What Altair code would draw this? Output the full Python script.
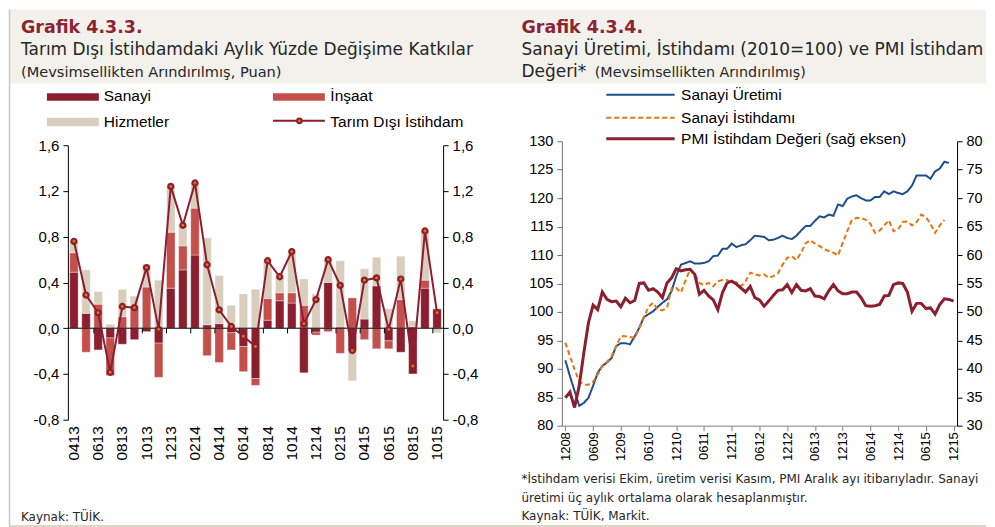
import altair as alt
import pandas as pd

# ---------------- Grafik 4.3.3 : data ----------------
aylar_sol = ["0413", "0513", "0613", "0713", "0813", "0913", "1013", "1113", "1213",
             "0114", "0214", "0314", "0414", "0514", "0614", "0714", "0814", "0914",
             "1014", "1114", "1214", "0115", "0215", "0315", "0415", "0515", "0615",
             "0715", "0815", "0915", "1015"]
sanayi = [0.49, 0.13, -0.19, -0.085, -0.14, -0.10, -0.03, -0.13, 0.35, 0.51, 0.64,
          0.03, 0.04, -0.04, -0.16, -0.44, 0.07, 0.24, 0.22, -0.39, -0.035, 0.40,
          0.01, -0.20, 0.08, 0.37, -0.11, -0.21, -0.40, 0.35, 0.17]
insaat = [0.17, -0.21, 0.21, -0.33, 0.10, 0.20, 0.36, -0.30, 0.49, 0.21, 0.41,
          -0.24, -0.30, -0.15, -0.22, -0.06, 0.19, 0.07, 0.09, 0.20, -0.025, -0.03,
          -0.22, 0.265, -0.10, -0.18, -0.07, 0.25, 0.015, 0.07, 0.0]
hizmetler = [0.10, 0.38, 0.11, 0.035, 0.24, 0.08, 0.20, 0.42, 0.40, 0.18, 0.22,
             0.76, 0.42, 0.20, 0.30, 0.34, 0.33, 0.14, 0.35, 0.23, 0.30, 0.20,
             0.58, -0.26, 0.44, 0.25, 0.17, 0.38, 0.05, 0.43, -0.04]
tarim_disi = [0.76, 0.29, 0.135, -0.385, 0.19, 0.18, 0.53, -0.01, 1.24, 0.90, 1.27,
              0.555, 0.16, 0.015, -0.07, -0.16, 0.59, 0.45, 0.67, 0.04, 0.25, 0.60,
              0.375, -0.195, 0.42, 0.44, -0.012, 0.43, -0.33, 0.85, 0.135]
etiketler_sol = aylar_sol[::2]
y_degerler_sol = [-0.8, -0.4, 0.0, 0.4, 0.8, 1.2, 1.6]
bilesenler = ["Sanayi", "İnşaat", "Hizmetler"]

# ---------------- Grafik 4.3.4 : data ----------------
aylar_sag = [d.strftime("%m%y") for d in pd.date_range("2008-12-01", "2015-12-01", freq="MS")]
sanayi_uretimi = [91.5, 88.7, 86.1, 83.5, 84.0, 84.9, 87.0, 89.3, 90.5, 91.1,
                  91.9, 94.0, 94.5, 94.5, 94.3, 95.7, 97.2, 99.1, 99.6, 100.1,
                  100.9, 101.6, 102.2, 103.7, 106.3, 108.3, 108.6, 108.9, 108.5, 108.5,
                  108.6, 108.9, 109.8, 109.9, 111.1, 111.1, 112.0, 111.4, 111.7, 111.9,
                  112.6, 113.4, 113.3, 113.2, 112.6, 112.7, 113.0, 113.4, 113.0, 112.8,
                  113.4, 114.3, 115.1, 115.1, 116.0, 116.8, 116.6, 117.1, 116.9, 118.9,
                  118.6, 119.9, 120.3, 120.5, 120.0, 119.6, 119.6, 120.2, 120.2, 121.2,
                  120.7, 121.2, 120.9, 120.7, 121.2, 122.2, 124.0, 124.0, 124.0, 123.4,
                  124.7, 125.2, 126.4, 126.2]
sanayi_istihdami = [94.6, 92.2, 89.9, 87.8, 87.2, 87.2, 87.7, 89.0, 90.5, 91.2,
                    92.2, 94.0, 95.7, 95.7, 95.6, 95.4, 97.2, 99.0, 100.9, 101.6,
                    100.4, 100.3, 100.7, 104.2, 104.2, 103.4, 105.5, 107.5, 106.6, 105.1,
                    104.7, 105.1, 104.5, 105.4, 105.6, 105.6, 105.1, 105.2, 104.5, 105.4,
                    106.9, 106.6, 106.4, 106.6, 106.0, 106.3, 106.8, 108.3, 109.5, 109.8,
                    109.1, 110.4, 112.1, 112.6, 112.0, 111.6, 111.0, 110.7, 110.4, 109.9,
                    112.1, 114.2, 116.2, 116.5, 116.5, 116.2, 115.5, 113.9, 114.3, 115.2,
                    116.1, 114.2, 114.5, 115.8, 115.9, 115.2, 115.8, 117.1, 116.7, 115.5,
                    113.9, 115.2, 116.2]
pmi_istihdam = [34.9, 35.9, 33.2, 37.0, 42.8, 48.1, 51.2, 50.4, 53.5, 52.2,
                51.8, 51.9, 50.9, 52.4, 51.6, 52.0, 55.0, 55.1, 53.8, 54.1,
                53.5, 52.5, 55.1, 56.0, 57.6, 57.2, 57.4, 57.5, 56.6, 53.1,
                53.8, 52.8, 52.1, 50.4, 53.4, 55.1, 55.4, 54.9, 54.2, 53.5,
                54.5, 52.5, 52.1, 51.0, 51.9, 52.9, 53.8, 53.9, 54.8, 53.4,
                54.8, 53.8, 53.7, 54.1, 52.8, 52.7, 52.3, 53.7, 54.8, 53.7,
                53.2, 53.2, 53.5, 53.5, 52.5, 51.1, 51.0, 51.1, 51.3, 52.8,
                52.9, 54.8, 55.1, 55.0, 53.5, 50.1, 51.5, 51.5, 50.6, 50.7,
                49.6, 51.3, 52.3, 52.2, 51.9]
etiketler_sag = ["1208", "0609", "1209", "0610", "1210", "0611", "1211", "0612",
                 "1212", "0613", "1213", "0614", "1214", "0615", "1215"]
seriler_sag = ["Sanayi Üretimi", "Sanayi İstihdamı"]

# ---------------- styles ----------------
KOYU = "#8B1E2F"
ACIK = "#C4504E"
BEJ = "#D9CDBC"
TURUNCU = "#E8740C"
MAVI = "#1F4E8C"
BASLIK = "#8C2433"
YAZI = "#262626"
BANT = "#F3F1EC"
CIZGI = "#D4C8B5"
ARIAL = "Liberation Sans"
GOTHIC = "DejaVu Sans"
LABEL_EXPR = "replace(replace(format(datum.value, '.1f'), '.', ','), '\u2212', '-')"

one = pd.DataFrame({"a": [0]})


def txt(s, x, y, size, color=YAZI, font=GOTHIC, weight="normal", align="left"):
    return alt.Chart(one).mark_text(
        text=s, align=align, baseline="alphabetic", font=font, fontSize=size,
        fontWeight=weight, color=color
    ).encode(x=alt.value(x), y=alt.value(y))


def rect(x, x2, y, y2, color):
    return alt.Chart(one).mark_rect(color=color).encode(
        x=alt.value(x), x2=alt.value(x2), y=alt.value(y), y2=alt.value(y2))


def hline(x, x2, y, color, width=1.0, dash=None):
    kw = dict(color=color, strokeWidth=width)
    if dash:
        kw["strokeDash"] = dash
    return alt.Chart(one).mark_rule(**kw).encode(
        x=alt.value(x), x2=alt.value(x2), y=alt.value(y))


# ---------------- left panel ----------------
rows = []
for i, ay in enumerate(aylar_sol):
    for k, (ad, seri) in enumerate(zip(bilesenler, [sanayi, insaat, hizmetler])):
        rows.append({"ay": ay, "bilesen": ad, "sira": k, "deger": seri[i]})
bar_df = pd.DataFrame(rows)
line_df = pd.DataFrame({"ay": aylar_sol, "deger": tarim_disi})
tick_df = pd.DataFrame({"ay": etiketler_sol[1:]})

W_L, H_L = 376, 279
y_scale_sol = alt.Scale(domain=[-0.8, 1.6], range=[H_L, 4], nice=False, zero=False)
x_sol = alt.X("ay:N", sort=aylar_sol, title=None,
              scale=alt.Scale(paddingInner=0.3, paddingOuter=0.15),
              axis=alt.Axis(values=etiketler_sol, labelAngle=-90, labelAlign="right",
                            labelBaseline="middle", labelFont=ARIAL, labelFontSize=15.5,
                            labelColor="#000", domain=False, ticks=False, tickSize=0,
                            labelPadding=6, grid=False))


def y_axis_sol(orient):
    return alt.Axis(orient=orient, values=y_degerler_sol, labelExpr=LABEL_EXPR,
                    labelFont=ARIAL, labelFontSize=15, labelColor="#000",
                    domainColor="#000", tickColor="#000", tickSize=5, labelPadding=4,
                    grid=False, title=None)


bars = alt.Chart(bar_df).mark_bar(stroke="white", strokeWidth=0.5, strokeOpacity=0.7).encode(
    x=x_sol,
    y=alt.Y("deger:Q", stack="zero", scale=y_scale_sol, axis=y_axis_sol("left"), title=None),
    color=alt.Color("bilesen:N", scale=alt.Scale(domain=bilesenler, range=[KOYU, ACIK, BEJ]),
                    legend=None),
    order=alt.Order("sira:Q"),
)
zero_rule = alt.Chart(one).mark_rule(color="#000", strokeWidth=1).encode(y=alt.datum(0))
ticks = alt.Chart(tick_df).mark_rule(color="#000", strokeWidth=1).encode(
    x=alt.X("ay:N", sort=aylar_sol, bandPosition=0),
    y=alt.datum(0), y2=alt.datum(-0.045))

y_sag_sol = alt.Y("deger:Q", scale=y_scale_sol, axis=y_axis_sol("right"), title=None)
line = alt.Chart(line_df).mark_line(color=KOYU, strokeWidth=2).encode(x=x_sol, y=y_sag_sol)
points = alt.Chart(line_df).mark_circle(fill=TURUNCU, stroke=KOYU, strokeWidth=2.2,
                                        size=26, opacity=1).encode(x=x_sol, y=y_sag_sol)

sol_deko = [
    rect(-59, 920, -132, -58, BANT),
    hline(-59, 920, 385.5, CIZGI, 1.5),
    alt.Chart(one).mark_rule(color=CIZGI, strokeWidth=1.5).encode(
        x=alt.value(-58.5), y=alt.value(-132), y2=alt.value(386)),
]
sol_yazi = [
    txt("Grafik 4.3.3.", -47, -108.5, 17.5, BASLIK, weight="bold"),
    txt("Tarım Dışı İstihdamdaki Aylık Yüzde Değişime Katkılar", -47, -86, 17),
    txt("(Mevsimsellikten Arındırılmış, Puan)", -47, -64.5, 14.6),
    rect(-21, 31, -48, -40.5, KOYU),
    txt("Sanayi", 36, -40, 15.5, "#000", ARIAL),
    rect(205.5, 257.5, -48, -40.5, ACIK),
    txt("İnşaat", 263, -40, 15.5, "#000", ARIAL),
    rect(-21, 31, -23.5, -15, BEJ),
    txt("Hizmetler", 36, -14, 15.5, "#000", ARIAL),
    hline(205.5, 257.5, -20.5, KOYU, 2),
    alt.Chart(one).mark_circle(fill=TURUNCU, stroke=KOYU, strokeWidth=2, size=22, opacity=1)
    .encode(x=alt.value(232), y=alt.value(-20.5)),
    txt("Tarım Dışı İstihdam", 263, -14, 15.5, "#000", ARIAL),
    txt("Kaynak: TÜİK.", -47, 381, 12),
]

sol = alt.layer(
    *sol_deko,
    alt.layer(bars, zero_rule, ticks),
    alt.layer(line, points),
    *sol_yazi,
).resolve_scale(y="independent").properties(width=W_L, height=H_L)

# ---------------- right panel ----------------
sag_df = pd.concat([
    pd.DataFrame({"ay": aylar_sag[:len(sanayi_uretimi)], "seri": seriler_sag[0],
                  "deger": sanayi_uretimi}),
    pd.DataFrame({"ay": aylar_sag[:len(sanayi_istihdami)], "seri": seriler_sag[1],
                  "deger": sanayi_istihdami}),
], ignore_index=True)
pmi_df = pd.DataFrame({"ay": aylar_sag, "deger": pmi_istihdam})

W_R, H_R = 396, 285
x_sag = alt.X("ay:N", sort=aylar_sag, title=None,
              scale=alt.Scale(type="point", padding=0.75),
              axis=alt.Axis(values=etiketler_sag, labelAngle=-90, labelAlign="right",
                            labelBaseline="middle", labelFont=ARIAL, labelFontSize=13,
                            labelColor="#000", domainColor="#808080", tickColor="#808080",
                            tickSize=5, labelPadding=1, grid=False))

lines_sag = alt.Chart(sag_df).mark_line(strokeWidth=2).encode(
    x=x_sag,
    y=alt.Y("deger:Q", title=None, scale=alt.Scale(domain=[80, 130], nice=False, zero=False),
            axis=alt.Axis(orient="left", values=list(range(80, 131, 5)), labelFont=ARIAL,
                          labelFontSize=14.5, labelColor="#000", domainColor="#707070",
                          tickColor="#707070", tickSize=5, labelPadding=4, grid=False)),
    color=alt.Color("seri:N", scale=alt.Scale(domain=seriler_sag, range=[MAVI, TURUNCU]),
                    legend=None),
    strokeDash=alt.StrokeDash("seri:N", scale=alt.Scale(domain=seriler_sag,
                                                        range=[[1, 0], [5, 3]]), legend=None),
)
pmi_line = alt.Chart(pmi_df).mark_line(color=KOYU, strokeWidth=3).encode(
    x=x_sag,
    y=alt.Y("deger:Q", title=None, scale=alt.Scale(domain=[30, 80], nice=False, zero=False),
            axis=alt.Axis(orient="right", values=list(range(30, 81, 5)), labelFont=ARIAL,
                          labelFontSize=14.5, labelColor="#000", domainColor="#000",
                          tickColor="#000", tickSize=5, labelPadding=4, grid=False)),
)

sag_yazi = [
    txt("Grafik 4.3.4.", -40.5, -108.5, 17.5, BASLIK, weight="bold"),
    txt("Sanayi Üretimi, İstihdamı (2010=100) ve PMI İstihdam", -40.5, -86, 17),
    txt("Değeri*", -40.5, -64.5, 17),
    txt("(Mevsimsellikten Arındırılmış)", 33, -64.5, 14.3),
    hline(44.5, 113, -46.5, MAVI, 2),
    txt("Sanayi Üretimi", 119.5, -41.5, 15.5, "#000", ARIAL),
    hline(44.5, 113, -23.5, TURUNCU, 2, [5, 3]),
    txt("Sanayi İstihdamı", 119.5, -18.5, 15.5, "#000", ARIAL),
    hline(44.5, 113, -2.5, KOYU, 3),
    txt("PMI İstihdam Değeri (sağ eksen)", 119.5, 2.5, 15.5, "#000", ARIAL),
    txt("*İstihdam verisi Ekim, üretim verisi Kasım, PMI Aralık ayı itibarıyladır. Sanayi",
        -40.5, 342.5, 12),
    txt("üretimi üç aylık ortalama olarak hesaplanmıştır.", -40.5, 361.5, 12),
    txt("Kaynak: TÜİK, Markit.", -40.5, 380, 12),
]

sag = alt.layer(
    lines_sag,
    pmi_line,
    *sag_yazi,
).resolve_scale(y="independent").properties(width=W_R, height=H_R)

chart = alt.hconcat(sol, sag, spacing=119, bounds="flush").resolve_scale(
    color="independent", strokeDash="independent"
).properties(padding=0, background="white").configure_view(stroke=None)

chart.save("out.html", embed_options={"renderer": "svg", "actions": False})
